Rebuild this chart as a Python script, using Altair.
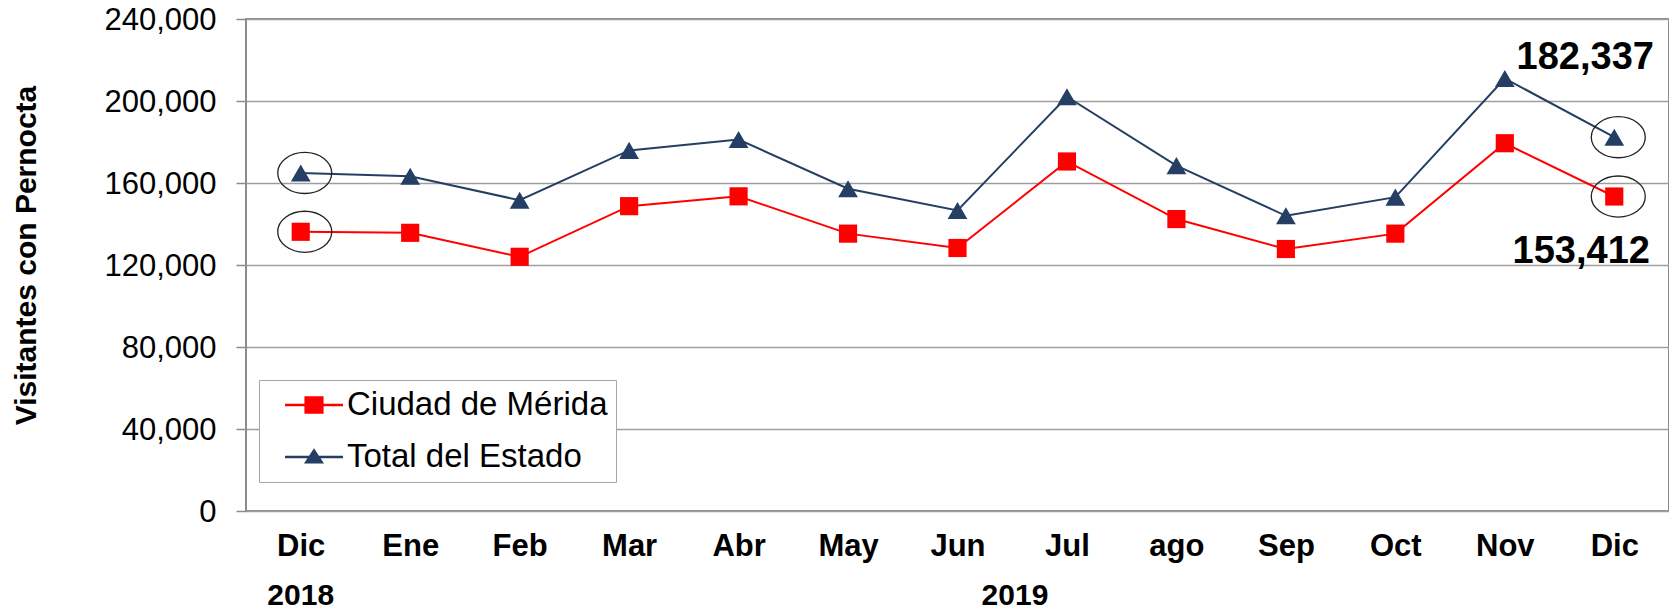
import altair as alt
import pandas as pd

# ---- data ----
months = ["Dic-2018", "Ene", "Feb", "Mar", "Abr", "May", "Jun", "Jul", "ago", "Sep", "Oct", "Nov", "Dic"]
merida = [136200, 135700, 124000, 148700, 153500, 135300, 128300, 170500, 142400, 127800, 135300, 179400, 153412]
total = [164900, 163300, 151600, 175900, 181200, 157200, 146600, 202100, 168500, 144000, 153100, 211000, 182337]
series = ["Ciudad de Mérida", "Total del Estado"]
colors = ["#FF0000", "#243F63"]
years = ["2018", "2019"]
year_at = ["Dic-2018", "Jul"]
circled = ["Dic-2018", "Dic"]
y_ticks = [0, 40000, 80000, 120000, 160000, 200000, 240000]

rows = []
for i, m in enumerate(months):
    rows.append({"month": m, "idx": i, "serie": series[0], "value": merida[i]})
    rows.append({"month": m, "idx": i, "serie": series[1], "value": total[i]})
df = pd.DataFrame(rows)
df_years = pd.DataFrame({"month": year_at, "year": years})

FONT = "Liberation Sans"
GRAY = "#8C8C8C"

X = alt.X(
    "month:O",
    scale=alt.Scale(domain=months),
    title=None,
    axis=alt.Axis(
        labelExpr="split(datum.label, '-')[0]",
        labelAngle=0,
        ticks=False,
        tickSize=0,
        domain=False,
        grid=False,
        labelFont=FONT,
        labelFontSize=31,
        labelFontWeight="bold",
        labelColor="black",
        labelPadding=44,
        labelBaseline="alphabetic",
    ),
)

Y = alt.Y(
    "value:Q",
    scale=alt.Scale(domain=[0, 240000], nice=False),
    axis=alt.Axis(
        values=y_ticks,
        labelExpr="format(datum.value, ',.0f')",
        labelFont=FONT,
        labelFontSize=31,
        labelColor="black",
        labelPadding=20,
        labelOffset=1,
        tickSize=10,
        tickColor=GRAY,
        tickWidth=1.5,
        domain=False,
        grid=True,
        gridColor="#9E9E9E",
        gridWidth=1.5,
        title="Visitantes con Pernocta",
        titleFont=FONT,
        titleFontSize=30,
        titleFontWeight="bold",
        titleColor="black",
        titleAngle=270,
        titleX=-211,
        titleY=236,
        titleBaseline="alphabetic",
        titleAlign="center",
    ),
)
ORDER = alt.Order("idx:Q")

base = alt.Chart(df)

line_m = base.transform_filter(alt.datum.serie == series[0]).mark_line(
    color=colors[0], strokeWidth=2).encode(x=X, y=Y, order=ORDER)
line_t = base.transform_filter(alt.datum.serie == series[1]).mark_line(
    color=colors[1], strokeWidth=2).encode(x=X, y=Y, order=ORDER)

pts_m = base.transform_filter(alt.datum.serie == series[0]).mark_point(
    shape="square", filled=True, size=330, opacity=1, color=colors[0]).encode(x=X, y=Y)
pts_t = base.transform_filter(alt.datum.serie == series[1]).mark_point(
    shape="triangle-up", filled=True, size=390, opacity=1, color=colors[1]).encode(x=X, y=Y)

ellipse_path = "M-1,0A1,0.76 0 1,1 1,0A1,0.76 0 1,1 -1,0Z"
rings = base.transform_filter(
    alt.FieldOneOfPredicate(field="month", oneOf=circled)
).mark_point(
    shape=ellipse_path, size=2916, filled=False, color="#222222", strokeWidth=1.3,
    opacity=1, xOffset=4
).encode(x=X, y=Y)

lab_t = base.transform_filter(
    (alt.datum.serie == series[1]) & (alt.datum.month == months[-1])
).mark_text(
    font=FONT, fontSize=38, fontWeight="bold", color="black",
    align="center", baseline="alphabetic", dx=-29, dy=-68
).encode(x=X, y=Y, text=alt.Text("value:Q", format=",.0f"))

lab_m = base.transform_filter(
    (alt.datum.serie == series[0]) & (alt.datum.month == months[-1])
).mark_text(
    font=FONT, fontSize=38, fontWeight="bold", color="black",
    align="center", baseline="alphabetic", dx=-33, dy=66
).encode(x=X, y=Y, text=alt.Text("value:Q", format=",.0f"))

year_2018 = alt.Chart(df_years).transform_filter(alt.datum.year == years[0]).mark_text(
    font=FONT, fontSize=30, fontWeight="bold", color="black",
    align="center", baseline="alphabetic"
).encode(x=X, y=alt.value(586), text="year:N")

year_2019 = alt.Chart(df_years).transform_filter(alt.datum.year == years[1]).mark_text(
    font=FONT, fontSize=30, fontWeight="bold", color="black",
    align="center", baseline="alphabetic", dx=-52
).encode(x=X, y=alt.value(586), text="year:N")

# legend-only layer (draws nothing; carries the legend)
path_sq = "M-1,-0.04H1V0.04H-1Z M-0.33,-0.3H0.33V0.3H-0.33Z"
path_tri = "M-1,-0.04H1V0.04H-1Z M0,-0.3L0.345,0.22H-0.345Z"
leg = alt.Legend(
    title=None, orient="none", legendX=13, legendY=361,
    padding=8, rowPadding=18, clipHeight=34, symbolSize=3364,
    symbolOffset=18, symbolStrokeWidth=0,
    labelFont=FONT, labelFontSize=33, labelColor="black",
    labelOffset=4, labelLimit=500, strokeColor="#A6A6A6", fillColor="white",
)
legend_layer = base.transform_filter("false").mark_point(filled=True, opacity=1).encode(
    color=alt.Color("serie:N", scale=alt.Scale(domain=series, range=colors), legend=leg),
    shape=alt.Shape("serie:N", scale=alt.Scale(domain=series, range=[path_sq, path_tri]), legend=leg),
)

chart = alt.layer(
    line_m, line_t, pts_m, pts_t, rings, lab_t, lab_m, year_2018, year_2019, legend_layer
).properties(
    width=1423, height=492,
    autosize=alt.AutoSizeParams(type="none"),
    padding={"left": 238, "top": 11, "right": 0, "bottom": 100},
    background="white",
).configure(
    font=FONT,
    view=alt.ViewConfig(stroke=GRAY, strokeWidth=2),
)

chart.save("out.html", embed_options={"renderer": "svg", "actions": False})
